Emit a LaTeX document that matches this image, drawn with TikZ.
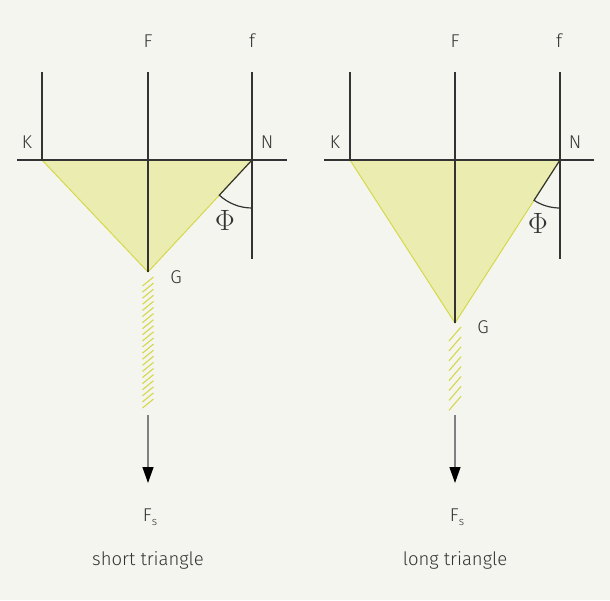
\documentclass[tikz,border=0pt]{standalone}
\usepackage{fontspec}
\setmainfont{Fira Sans}[UprightFont={* Light}]
\usetikzlibrary{arrows.meta,calc}
\definecolor{paper}{HTML}{F5F5F0}
\definecolor{ink}{HTML}{333333}
\definecolor{lemon}{HTML}{EBEDB0}
\definecolor{lemonedge}{HTML}{D4D84A}
\tikzset{
    axis/.style={ink, line width=1.2pt},
    tri/.style={fill=lemon, draw=lemonedge, line width=1pt},
    hatch/.style={lemonedge, line width=1.1pt},
    force/.style={draw=gray, line width=1.3pt,
        -{Triangle[length=16pt,width=11pt,color=black]}},
    lbl/.style={text=ink, inner sep=0pt, font=\fontsize{18.5}{21}\selectfont},
}
\newcommand{\phisign}{\scalebox{1.7}{$\Phi$}}
\newcommand{\forcesign}{F\raisebox{-0.45ex}{\fontsize{11.5}{12}\selectfont s}}
\begin{document}
\begin{tikzpicture}[x=1pt,y=-1pt]
    \fill[paper] (0,0) rectangle (610,600);

    % short triangle
    \coordinate (K1) at (42,160);
    \coordinate (N1) at (252,160);
    \coordinate (G1) at (148,272);
    \coordinate (K1top) at (42,72);
    \coordinate (F1top) at (148,72);
    \coordinate (f1top) at (252,72);
    \coordinate (f1bot) at (252,259);
    \coordinate (H1a) at (17,160);
    \coordinate (H1b) at (287,160);
    \coordinate (S1a) at (148,415);
    \coordinate (S1b) at (148,483);

    \draw[tri] (K1) -- (N1) -- (G1) -- cycle;
    \foreach \k in {0,...,20}
        \draw[hatch] ($(G1)+(-5.5,14+6.1*\k)$) -- ++(11,-9);
    \draw[axis] (H1a) -- (H1b);
    \draw[axis] (K1top) -- (K1);
    \draw[axis] (F1top) -- (G1);
    \draw[axis] (f1top) -- (f1bot);
    \draw[axis] (N1) -- ++(132.9:48) arc[start angle=132.9, end angle=90, radius=48];
    \draw[force] (S1a) -- (S1b);

    \node[lbl] (F1) at (148,41) {F};
    \node[lbl] (f1) at (252,41) {f};
    \node[lbl] (K1lbl) at (27,142) {K};
    \node[lbl] (N1lbl) at (267,142) {N};
    \node[lbl] (G1lbl) at (176,277) {G};
    \node[lbl] (Phi1) at (225,220) {\phisign};
    \node[lbl] (Fs1) at (150,517) {\forcesign};
    \node[lbl] (cap1) at (148,560) {short triangle};

    % long triangle
    \coordinate (K2) at (350,160);
    \coordinate (N2) at (560,160);
    \coordinate (G2) at (455,323);
    \coordinate (K2top) at (350,72);
    \coordinate (F2top) at (455,72);
    \coordinate (f2top) at (560,72);
    \coordinate (f2bot) at (560,259);
    \coordinate (H2a) at (324,160);
    \coordinate (H2b) at (594,160);
    \coordinate (S2a) at (455,415);
    \coordinate (S2b) at (455,483);

    \draw[tri] (K2) -- (N2) -- (G2) -- cycle;
    \foreach \k in {0,...,7}
        \draw[hatch] ($(G2)+(-6,18+9.9*\k)$) -- ++(12,-14);
    \draw[axis] (H2a) -- (H2b);
    \draw[axis] (K2top) -- (K2);
    \draw[axis] (F2top) -- (G2);
    \draw[axis] (f2top) -- (f2bot);
    \draw[axis] (N2) -- ++(122.8:48) arc[start angle=122.8, end angle=90, radius=48];
    \draw[force] (S2a) -- (S2b);

    \node[lbl] (F2) at (455,41) {F};
    \node[lbl] (f2) at (559,41) {f};
    \node[lbl] (K2lbl) at (335,142) {K};
    \node[lbl] (N2lbl) at (575,142) {N};
    \node[lbl] (G2lbl) at (483,327) {G};
    \node[lbl] (Phi2) at (538,223) {\phisign};
    \node[lbl] (Fs2) at (457,517) {\forcesign};
    \node[lbl] (cap2) at (455,560) {long triangle};
\end{tikzpicture}
\end{document}
